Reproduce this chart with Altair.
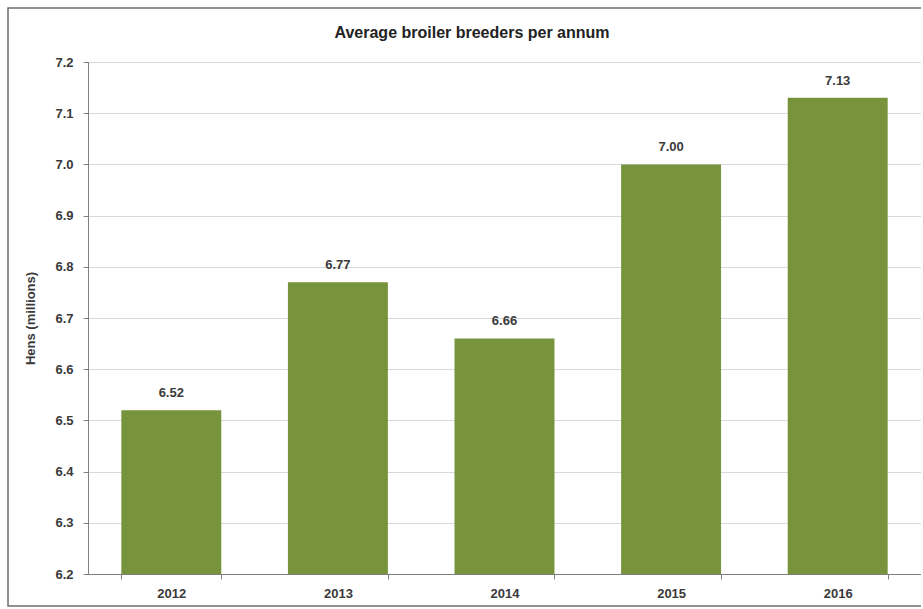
import altair as alt
import pandas as pd

# Average broiler breeder hens per year (millions)
years = ["2012", "2013", "2014", "2015", "2016"]
hens = [6.52, 6.77, 6.66, 7.00, 7.13]
labels = ["6.52", "6.77", "6.66", "7.00", "7.13"]

df = pd.DataFrame({"year": years, "hens": hens, "label": labels})

FONT = "Liberation Sans"
BAR = "#77933C"
TEXT = "#3a3a3a"
FS = 13

x_enc = alt.X(
    "year:N",
    sort=years,
    scale=alt.Scale(paddingInner=0.4, paddingOuter=0.2),
    axis=alt.Axis(
        title=None,
        labelAngle=0,
        labelFont=FONT,
        labelFontWeight="bold",
        labelFontSize=FS,
        labelColor=TEXT,
        labelPadding=8,
        tickBand="extent",
        tickSize=5,
        tickColor="#808080",
        domainColor="#808080",
        grid=False,
    ),
)

y_scale = alt.Scale(domain=[6.2, 7.2], zero=False, nice=False)

bars = alt.Chart(df).mark_bar(color=BAR).encode(
    x=x_enc,
    y=alt.Y(
        "hens:Q",
        scale=y_scale,
        axis=alt.Axis(
            title="Hens (millions)",
            titleFont=FONT,
            titleFontWeight="bold",
            titleFontSize=FS,
            titleColor=TEXT,
            titleX=-58,
            titleY=256,
            titleAngle=270,
            titleAlign="center",
            titleBaseline="middle",
            values=[6.2, 6.3, 6.4, 6.5, 6.6, 6.7, 6.8, 6.9, 7.0, 7.1, 7.2],
            format=".1f",
            labelFont=FONT,
            labelFontWeight="bold",
            labelFontSize=FS,
            labelColor=TEXT,
            labelPadding=10,
            tickSize=5,
            tickColor="#808080",
            domainColor="#808080",
            gridColor="#d9d9d9",
        ),
    ),
    y2=alt.datum(6.2),
)

values = alt.Chart(df).mark_text(
    font=FONT, fontWeight="bold", fontSize=FS, color=TEXT, baseline="bottom", dy=-10
).encode(
    x=alt.X("year:N", sort=years),
    y=alt.Y("hens:Q", scale=y_scale),
    text="label:N",
)

title = alt.Chart(pd.DataFrame({"t": ["Average broiler breeders per annum"]})).mark_text(
    font=FONT, fontWeight="bold", fontSize=16, color="#222222", baseline="middle", align="center"
).encode(x=alt.value(384), y=alt.value(-29), text="t:N")

frame = alt.Chart(pd.DataFrame({"a": [0]})).mark_rect(
    fill=None, stroke="#6e6e6e", strokeWidth=1.5
).encode(x=alt.value(-80), x2=alt.value(900), y=alt.value(-54), y2=alt.value(544))

chart = (
    alt.layer(frame, bars, values, title)
    .properties(
        width=833,
        height=512,
        autosize=alt.AutoSizeParams(type="none"),
        padding={"left": 88, "top": 62, "right": 0, "bottom": 35},
        background="white",
    )
    .configure_view(stroke="#a0a0a0", strokeWidth=1)
)

chart.save("out.html", embed_options={"renderer": "svg", "actions": False})
